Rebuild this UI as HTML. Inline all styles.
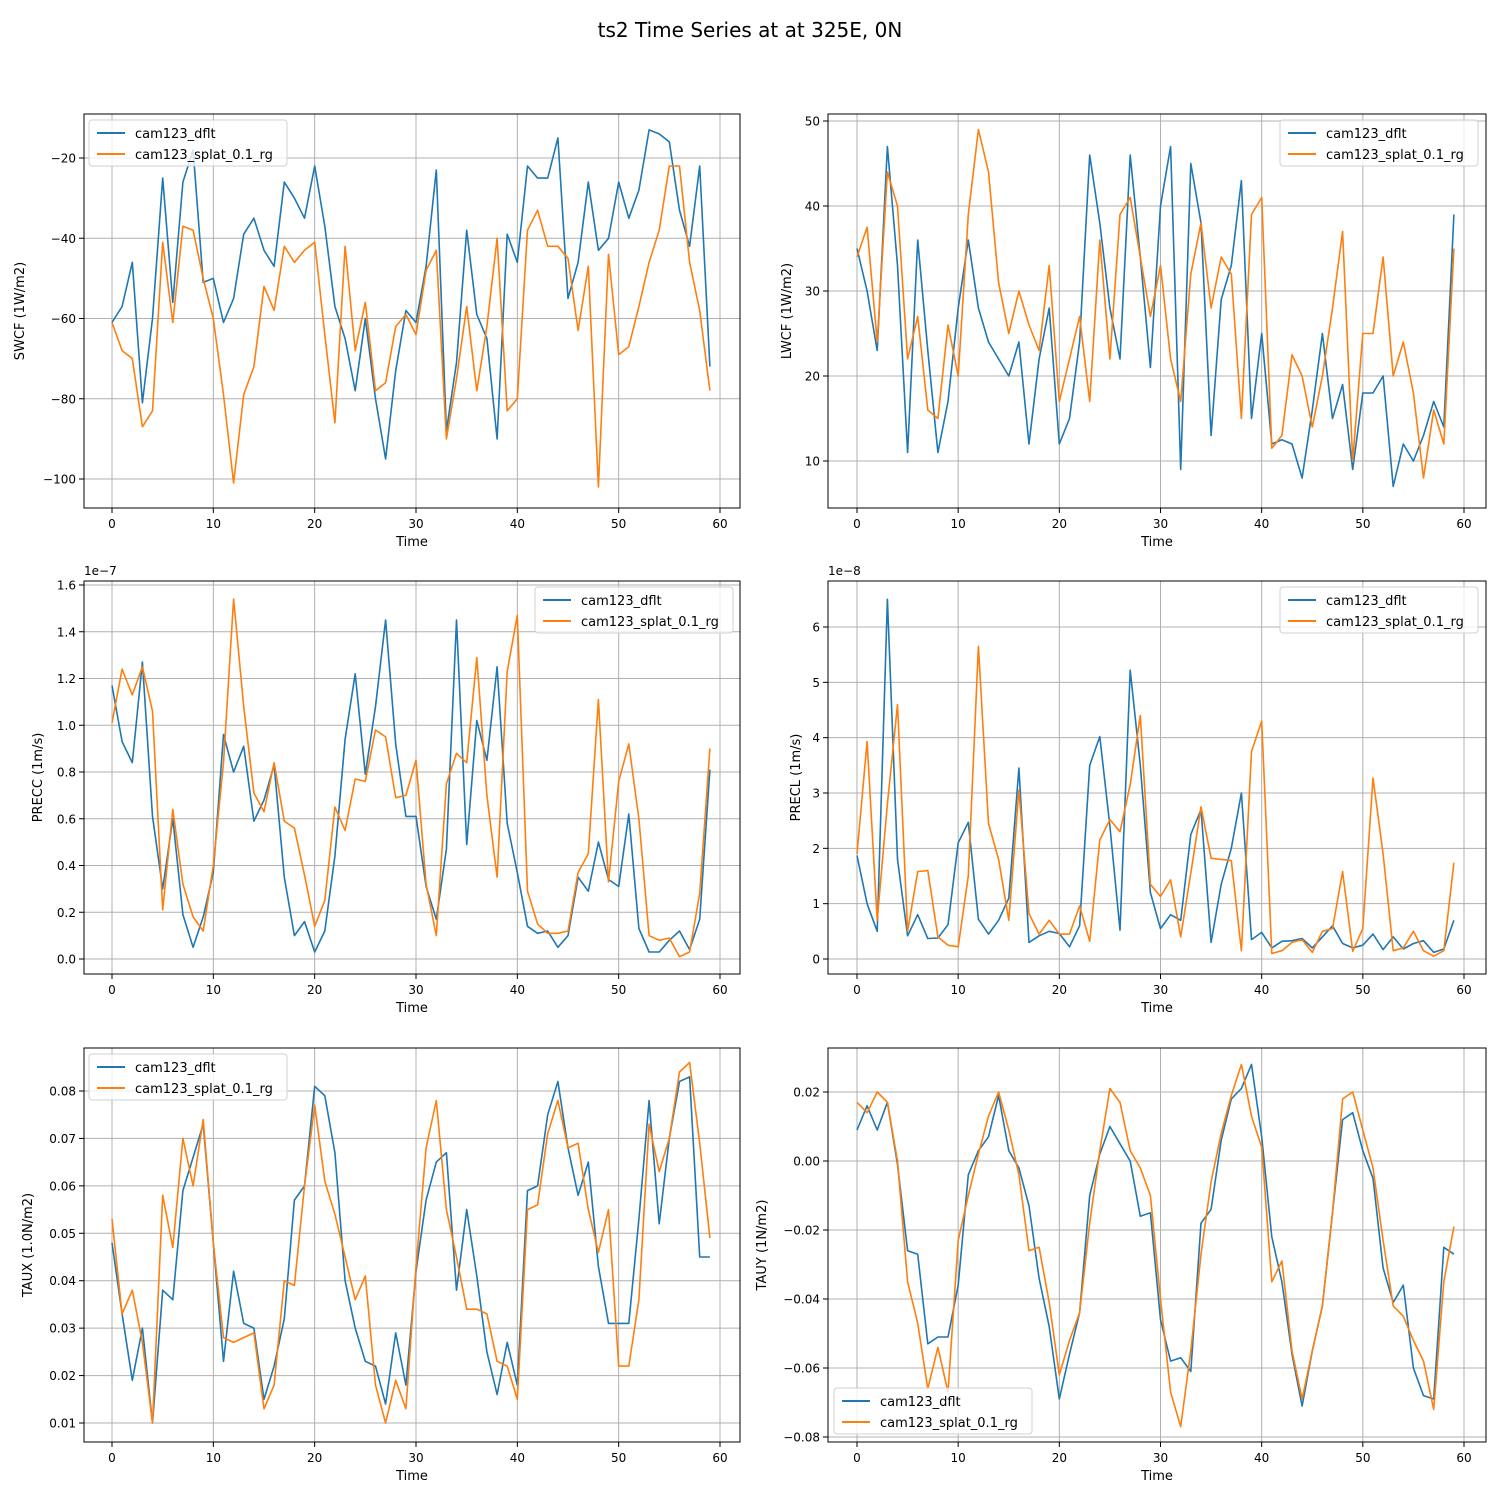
<!DOCTYPE html>
<html><head><meta charset="utf-8"><style>
html,body{margin:0;padding:0;background:#fff;}
svg{display:block;font-family:"DejaVu Sans","Liberation Sans",sans-serif;}
</style></head><body>
<svg id="fig" width="1500" height="1500" viewBox="0 0 1500 1500" xmlns="http://www.w3.org/2000/svg">
<rect width="1500" height="1500" fill="#fff"/>
<text x="750" y="37" font-size="20" text-anchor="middle" fill="#000">ts2 Time Series at at 325E, 0N</text>
</svg>
<script>
const timeSteps = Array.from({length:60},(_,i)=>i);
const xTicks = [0,10,20,30,40,50,60];
const seriesNames = ["cam123_dflt","cam123_splat_0.1_rg"];

const swcfDflt = [-61,-57,-46,-81,-60,-25,-56,-26,-18,-51,-50,-61,-55,-39,-35,-43,-47,-26,-30,-35,-22,-37,-57,-65,-78,-60,-80,-95,-73,-58,-61,-47,-23,-88,-71,-38,-59,-65,-90,-39,-46,-22,-25,-25,-15,-55,-46,-26,-43,-40,-26,-35,-28,-13,-14,-16,-33,-42,-22,-72];
const swcfSplat = [-61,-68,-70,-87,-83,-41,-61,-37,-38,-50,-60,-79,-101,-79,-72,-52,-58,-42,-46,-43,-41,-64,-86,-42,-68,-56,-78,-76,-62,-59,-64,-48,-43,-90,-75,-57,-78,-62,-40,-83,-80,-38,-33,-42,-42,-45,-63,-47,-102,-44,-69,-67,-57,-46,-38,-22,-22,-46,-58,-78];
const swcfTicks = [-100,-80,-60,-40,-20];

const lwcfDflt = [35,30,23,47,33,11,36,23,11,17,28,36,28,24,22,20,24,12,22,28,12,15,24,46,38,28,22,46,34,21,40,47,9,45,38,13,29,33,43,15,25,12,12.5,12,8,16,25,15,19,9,18,18,20,7,12,10,13,17,14,39];
const lwcfSplat = [34,37.5,24,44,40,22,27,16,15,26,20,39,49,44,31,25,30,26,23,33,17,22,27,17,36,22,39,41,34,27,33,22,17,32,38,28,34,32,15,39,41,11.5,13,22.5,20,14,20,28,37,10,25,25,34,20,24,18,8,16,12,35];
const lwcfTicks = [10,20,30,40,50];

const preccDflt = [1.17,0.93,0.84,1.27,0.61,0.30,0.60,0.19,0.05,0.18,0.37,0.96,0.80,0.91,0.59,0.68,0.83,0.35,0.10,0.16,0.03,0.12,0.44,0.94,1.22,0.79,1.08,1.45,0.92,0.61,0.61,0.31,0.17,0.47,1.45,0.49,1.02,0.85,1.25,0.58,0.37,0.14,0.11,0.12,0.05,0.10,0.35,0.29,0.50,0.34,0.31,0.62,0.13,0.03,0.03,0.08,0.12,0.04,0.17,0.81];
const preccSplat = [1.01,1.24,1.13,1.25,1.06,0.21,0.64,0.32,0.18,0.12,0.40,0.84,1.54,1.08,0.71,0.63,0.84,0.59,0.56,0.36,0.14,0.25,0.65,0.55,0.77,0.76,0.98,0.95,0.69,0.70,0.85,0.32,0.10,0.75,0.88,0.84,1.29,0.70,0.35,1.23,1.47,0.29,0.15,0.11,0.11,0.12,0.37,0.45,1.11,0.33,0.76,0.92,0.60,0.10,0.08,0.09,0.01,0.03,0.28,0.90];
const preccTicks = [0,0.2,0.4,0.6,0.8,1.0,1.2,1.4,1.6];

const preclDflt = [1.87,1.0,0.5,6.5,1.8,0.42,0.8,0.37,0.38,0.62,2.1,2.47,0.72,0.45,0.7,1.1,3.45,0.3,0.42,0.5,0.46,0.22,0.6,3.5,4.02,2.4,0.52,5.22,3.5,1.2,0.55,0.8,0.7,2.25,2.7,0.3,1.35,2.0,3.0,0.35,0.48,0.2,0.32,0.33,0.37,0.2,0.4,0.6,0.28,0.2,0.25,0.45,0.17,0.4,0.18,0.28,0.33,0.12,0.18,0.7];
const preclSplat = [1.9,3.93,0.7,2.8,4.6,0.5,1.58,1.6,0.4,0.25,0.22,1.5,5.65,2.45,1.8,0.7,3.05,0.82,0.45,0.7,0.45,0.45,0.96,0.32,2.15,2.52,2.3,3.15,4.4,1.35,1.13,1.43,0.4,1.55,2.75,1.82,1.8,1.78,0.15,3.75,4.3,0.1,0.15,0.3,0.35,0.12,0.5,0.55,1.58,0.14,0.55,3.27,1.9,0.15,0.2,0.5,0.15,0.05,0.15,1.74];
const preclTicks = [0,1,2,3,4,5,6];

const tauxDflt = [.048,.033,.019,.030,.010,.038,.036,.059,.066,.073,.048,.023,.042,.031,.030,.015,.022,.032,.057,.060,.081,.079,.067,.040,.030,.023,.022,.014,.029,.018,.042,.057,.065,.067,.038,.055,.041,.025,.016,.027,.018,.059,.060,.075,.082,.068,.058,.065,.043,.031,.031,.031,.053,.078,.052,.070,.082,.083,.045,.045];
const tauxSplat = [.053,.033,.038,.027,.010,.058,.047,.070,.060,.074,.048,.028,.027,.028,.029,.013,.018,.040,.039,.060,.077,.061,.054,.045,.036,.041,.018,.010,.019,.013,.043,.068,.078,.055,.045,.034,.034,.033,.023,.022,.015,.055,.056,.071,.078,.068,.069,.055,.046,.055,.022,.022,.036,.073,.063,.070,.084,.086,.069,.049];
const tauxTicks = [0.01,0.02,0.03,0.04,0.05,0.06,0.07,0.08];

const tauyDflt = [.009,.016,.009,.017,-.001,-.026,-.027,-.053,-.051,-.051,-.036,-.004,.003,.007,.019,.003,-.002,-.013,-.034,-.048,-.069,-.056,-.044,-.010,.002,.010,.005,.000,-.016,-.015,-.046,-.058,-.057,-.061,-.018,-.014,.006,.018,.021,.028,.007,-.022,-.035,-.056,-.071,-.055,-.042,-.015,.012,.014,.003,-.005,-.031,-.041,-.036,-.060,-.068,-.069,-.025,-.027];
const tauySplat = [.017,.014,.020,.017,.000,-.035,-.047,-.066,-.054,-.067,-.023,-.010,.002,.013,.020,.009,-.004,-.026,-.025,-.041,-.062,-.052,-.044,-.018,.003,.021,.017,.003,-.002,-.010,-.040,-.067,-.077,-.055,-.027,-.006,.008,.019,.028,.013,.004,-.035,-.029,-.055,-.069,-.055,-.042,-.015,.018,.020,.009,-.002,-.023,-.042,-.045,-.052,-.058,-.072,-.035,-.019];
const tauyTicks = [-0.08,-0.06,-0.04,-0.02,0.00,0.02];

const NS="http://www.w3.org/2000/svg";
const fig=document.getElementById('fig');
function el(tag,attrs,parent){const e=document.createElementNS(NS,tag);for(const k in attrs)e.setAttribute(k,attrs[k]);(parent||fig).appendChild(e);return e;}
const colors=["#1f77b4","#ff7f0e"];

function panel(cfg){
  const g=el('g',{});
  
  
  const {L,R,T,B}=cfg;
  const sx=v=>cfg.x0px+(v-0)*(cfg.x60px-cfg.x0px)/60;
  const sy=v=>cfg.yApx+(v-cfg.yA)*(cfg.yBpx-cfg.yApx)/(cfg.yB-cfg.yA);
  xTicks.forEach(t=>{const x=sx(t);
    const gl=el('line',{x1:x,x2:x,y1:T,y2:B,stroke:'#b0b0b0','stroke-width':1},g);
    
    
    el('line',{x1:x,x2:x,y1:B,y2:B+5,stroke:'#000','stroke-width':1},g);
    const tl=el('text',{x:x,y:B+20,'font-size':12,'text-anchor':'middle'},g);tl.textContent=t;
    
    
  });
  cfg.ticks.forEach(t=>{const y=sy(t);
    const gl=el('line',{x1:L,x2:R,y1:y,y2:y,stroke:'#b0b0b0','stroke-width':1},g);
    
    
    el('line',{x1:L-5,x2:L,y1:y,y2:y,stroke:'#000','stroke-width':1},g);
    const tl=el('text',{x:L-8,y:y+4.5,'font-size':12,'text-anchor':'end'},g);tl.textContent=cfg.fmt(t);
    
    
  });
  cfg.series.forEach((s,i)=>{
    const d=s.map((v,j)=>(j?'L':'M')+sx(timeSteps[j]).toFixed(1)+' '+sy(v).toFixed(1)).join(' ');
    const p=el('path',{d:d,fill:'none',stroke:colors[i],'stroke-width':1.6,'stroke-linejoin':'round'},g);
    
    
  });
  const fr=el('rect',{x:L,y:T,width:R-L,height:B-T,fill:'none',stroke:'#000','stroke-width':1},g);
  
  
  const xl=el('text',{x:(L+R)/2,y:B+38,'font-size':13,'text-anchor':'middle'},g);xl.textContent='Time';
  
  
  const yl=el('text',{x:cfg.ylx,y:(T+B)/2,'font-size':13,'text-anchor':'middle',transform:`rotate(-90 ${cfg.ylx} ${(T+B)/2})`},g);yl.textContent=cfg.ylabel;
  
  
  if(cfg.offset){const o=el('text',{x:L,y:T-6,'font-size':12},g);o.textContent=cfg.offset;
    
    }
  const lx=cfg.lx,ly=cfg.ly;
  const lg=el('g',{},g);
  
  
  el('rect',{x:lx,y:ly,width:198,height:46,rx:3,fill:'#fff','fill-opacity':0.8,stroke:'#d0d0d0'},lg);
  seriesNames.forEach((n,i)=>{const yy=ly+13+i*21;
    el('line',{x1:lx+8,x2:lx+36,y1:yy,y2:yy,stroke:colors[i],'stroke-width':2},lg);
    const t=el('text',{x:lx+46,y:yy+5,'font-size':13},lg);t.textContent=n;
    
    
  });
}
const fmt2=v=>v.toFixed(2).replace('-','\u2212');
panel({name:'swcf',L:84,R:740,T:114,B:508,x0px:112,x60px:720,yA:-20,yApx:158,yB:-100,yBpx:479,ticks:swcfTicks,fmt:v=>String(v).replace('-','\u2212'),series:[swcfDflt,swcfSplat],ylabel:'SWCF (1W/m2)',ylx:24,lx:89,ly:120});
panel({name:'lwcf',L:828,R:1486,T:114,B:508,x0px:857,x60px:1464,yA:50,yApx:121,yB:10,yBpx:461,ticks:lwcfTicks,fmt:v=>String(v),series:[lwcfDflt,lwcfSplat],ylabel:'LWCF (1W/m2)',ylx:791,lx:1280,ly:120});
panel({name:'precc',L:84,R:740,T:581,B:974,x0px:112,x60px:720,yA:0,yApx:959,yB:1.6,yBpx:585,ticks:preccTicks,fmt:v=>v.toFixed(1),series:[preccDflt,preccSplat],ylabel:'PRECC (1m/s)',ylx:42,lx:535,ly:587,offset:'1e\u22127'});
panel({name:'precl',L:828,R:1486,T:581,B:974,x0px:857,x60px:1464,yA:0,yApx:959,yB:6,yBpx:627,ticks:preclTicks,fmt:v=>String(v),series:[preclDflt,preclSplat],ylabel:'PRECL (1m/s)',ylx:800,lx:1280,ly:587,offset:'1e\u22128'});
panel({name:'taux',L:84,R:740,T:1048,B:1442,x0px:112,x60px:720,yA:0.08,yApx:1091,yB:0.01,yBpx:1423,ticks:tauxTicks,fmt:fmt2,series:[tauxDflt,tauxSplat],ylabel:'TAUX (1.0N/m2)',ylx:32,lx:89,ly:1054});
panel({name:'tauy',L:828,R:1486,T:1048,B:1442,x0px:857,x60px:1464,yA:0.02,yApx:1092,yB:-0.08,yBpx:1437,ticks:tauyTicks,fmt:fmt2,series:[tauyDflt,tauySplat],ylabel:'TAUY (1N/m2)',ylx:766,lx:834,ly:1388});
</script>
</body></html>
